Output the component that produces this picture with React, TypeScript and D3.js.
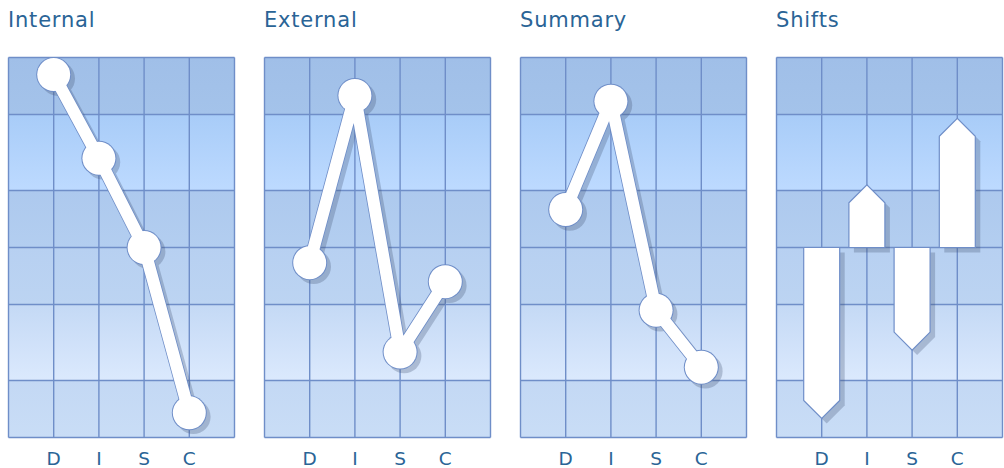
import React from "react";
import * as d3 from "d3";

const categories = ["D", "I", "S", "C"];
const panelTitles = ["Internal", "External", "Summary", "Shifts"];
const internalValues = [91, 47, 0, -87];
const externalValues = [-8, 80, -55, -18];
const summaryValues = [20, 77, -33, -63];
const shiftValues = [-90, 33, -54, 68];
const gridLevels = [100, 70, 30, 0, -30, -70, -100];

const W = 1004;
const H = 468;
const TOP = 57.5;
const BOTTOM = 437.5;
const PANEL_W = 226;
const PANEL_STEP = 256;
const LEFT0 = 8.5;

const TEXT_COLOR = "#2a6496";
const GRID_COLOR = "#6f8ec8";
const SHADOW = "#405070";

const y = d3.scaleLinear().domain([100, -100]).range([TOP, BOTTOM]);

const bandFills = ["url(#b1)", "url(#b2)", "url(#b3)", "url(#b4)", "url(#b5)", "url(#b6)"];

function Panel({ index, title, values, kind }: { index: number; title: string; values: number[]; kind: "line" | "bar" }) {
  const x0 = LEFT0 + index * PANEL_STEP;
  const x = d3.scaleLinear().domain([0, 5]).range([x0, x0 + PANEL_W]);
  const pts: [number, number][] = values.map((v, i) => [x(i + 1), y(v)]);
  const line = d3.line()(pts) || "";
  const r = 16.5;
  const halfW = 18;

  const barPath = (v: number, i: number) => {
    const cx = x(i + 1);
    const y0 = y(0);
    const tip = y(v);
    const dir = v >= 0 ? 1 : -1;
    const corner = tip + dir * halfW;
    return `M${cx - halfW},${y0} L${cx - halfW},${corner} L${cx},${tip} L${cx + halfW},${corner} L${cx + halfW},${y0} Z`;
  };

  return (
    <g>
      <text x={x0 - 0.5} y={27.3} fontFamily="DejaVu Sans, Verdana, sans-serif" fontSize={21} letterSpacing={0.8} fill={TEXT_COLOR}>
        {title}
      </text>
      {gridLevels.slice(0, -1).map((lv, k) => (
        <rect key={k} x={x0} y={y(lv)} width={PANEL_W} height={y(gridLevels[k + 1]) - y(lv)} fill={bandFills[k]} />
      ))}
      {gridLevels.map((lv, k) => (
        <line key={"h" + k} x1={x0} x2={x0 + PANEL_W} y1={y(lv)} y2={y(lv)} stroke={GRID_COLOR} strokeWidth={1.4} />
      ))}
      {[0, 1, 2, 3, 4, 5].map((c) => (
        <line key={"v" + c} x1={x(c)} x2={x(c)} y1={TOP} y2={BOTTOM} stroke={GRID_COLOR} strokeWidth={1.4} />
      ))}
      {kind === "line" ? (
        <g>
          <g transform="translate(4,4)" opacity={0.28}>
            <path d={line} fill="none" stroke={SHADOW} strokeWidth={13} strokeLinejoin="round" />
            {pts.map((p, i) => (
              <circle key={i} cx={p[0]} cy={p[1]} r={r + 0.8} fill={SHADOW} />
            ))}
          </g>
          <path d={line} fill="none" stroke={GRID_COLOR} strokeWidth={13.6} strokeLinejoin="round" />
          {pts.map((p, i) => (
            <circle key={"o" + i} cx={p[0]} cy={p[1]} r={r + 1} fill={GRID_COLOR} />
          ))}
          <path d={line} fill="none" stroke="#ffffff" strokeWidth={12} strokeLinejoin="round" />
          {pts.map((p, i) => (
            <circle key={"w" + i} cx={p[0]} cy={p[1]} r={r} fill="#ffffff" />
          ))}
        </g>
      ) : (
        <g>
          <g transform="translate(5,5)" opacity={0.28}>
            {values.map((v, i) => (
              <path key={i} d={barPath(v, i)} fill={SHADOW} />
            ))}
          </g>
          {values.map((v, i) => (
            <path key={"b" + i} d={barPath(v, i)} fill="#ffffff" stroke={GRID_COLOR} strokeWidth={1.2} />
          ))}
        </g>
      )}
      {categories.map((c, i) => (
        <text
          key={"l" + c}
          x={x(i + 1)}
          y={465}
          textAnchor="middle"
          fontFamily="DejaVu Sans, Verdana, sans-serif"
          fontSize={18.5}
          fill={TEXT_COLOR}
        >
          {c}
        </text>
      ))}
    </g>
  );
}

export default function App() {
  return (
    <svg width={W} height={H} style={{ position: "absolute", left: 0, top: 0 }}>
      <defs>
        <linearGradient id="b1" x1="0" y1="0" x2="0" y2="1">
          <stop offset="0" stopColor="#a0bfe8" />
          <stop offset="1" stopColor="#a4c3ea" />
        </linearGradient>
        <linearGradient id="b2" x1="0" y1="0" x2="0" y2="1">
          <stop offset="0" stopColor="#a8ccf8" />
          <stop offset="1" stopColor="#bddaff" />
        </linearGradient>
        <linearGradient id="b3" x1="0" y1="0" x2="0" y2="1">
          <stop offset="0" stopColor="#adc9ee" />
          <stop offset="1" stopColor="#b3cef0" />
        </linearGradient>
        <linearGradient id="b4" x1="0" y1="0" x2="0" y2="1">
          <stop offset="0" stopColor="#b7d0f1" />
          <stop offset="1" stopColor="#bcd4f2" />
        </linearGradient>
        <linearGradient id="b5" x1="0" y1="0" x2="0" y2="1">
          <stop offset="0" stopColor="#c4d9f5" />
          <stop offset="1" stopColor="#dbe9fd" />
        </linearGradient>
        <linearGradient id="b6" x1="0" y1="0" x2="0" y2="1">
          <stop offset="0" stopColor="#c3d8f4" />
          <stop offset="1" stopColor="#c9ddf6" />
        </linearGradient>
      </defs>
      <Panel index={0} title={panelTitles[0]} values={internalValues} kind="line" />
      <Panel index={1} title={panelTitles[1]} values={externalValues} kind="line" />
      <Panel index={2} title={panelTitles[2]} values={summaryValues} kind="line" />
      <Panel index={3} title={panelTitles[3]} values={shiftValues} kind="bar" />
    </svg>
  );
}
